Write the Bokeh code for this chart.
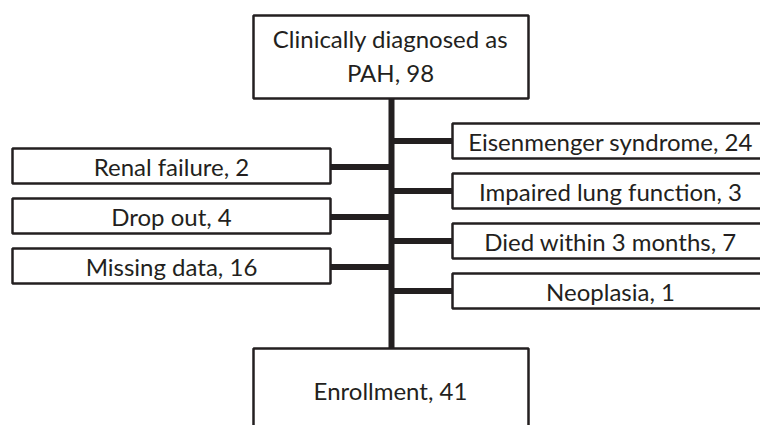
from bokeh.plotting import figure
from bokeh.models import Range1d, ColumnDataSource
from bokeh.core.properties import value
from bokeh.embed import file_html
from bokeh.resources import INLINE

# ---- data ----
top_lines = ["Clinically diagnosed as", "PAH, 98"]
left_labels = ["Renal failure", "Drop out", "Missing data"]
left_counts = [2, 4, 16]
right_labels = ["Eisenmenger syndrome", "Impaired lung function", "Died within 3 months", "Neoplasia"]
right_counts = [24, 3, 7, 1]
bottom_label = "Enrollment"
bottom_count = 41

# ---- layout (page pixel coordinates) ----
W, H = 760, 425
INK = "#231f20"
FONT = "Lato"
FS = "24px"
spine_x = 391

p = figure(width=W, height=H, output_backend="svg", toolbar_location=None,
           x_range=Range1d(0, W), y_range=Range1d(H, 0),
           min_border=0, outline_line_color=None)
p.axis.visible = False
p.grid.visible = False
p.background_fill_color = "white"

top_box = dict(left=253, right=528, top=15, bottom=98)
bot_box = dict(left=253, right=528, top=348, bottom=470)
left_x = (12, 330)
left_tops = [148 + 50 * i for i in range(len(left_labels))]
right_x = (452, 800)
right_tops = [123 + 50 * i for i in range(len(right_labels))]
bh = 35

# spine
p.segment(x0=[spine_x], y0=[top_box["bottom"]], x1=[spine_x], y1=[bot_box["top"]],
          line_color=INK, line_width=6)
# connectors
lc = [t + bh / 2 + 1 for t in left_tops]
rc = [t + bh / 2 for t in right_tops]
p.segment(x0=[left_x[1]] * len(lc), y0=lc, x1=[spine_x] * len(lc), y1=lc,
          line_color=INK, line_width=6)
p.segment(x0=[spine_x] * len(rc), y0=rc, x1=[right_x[0]] * len(rc), y1=rc,
          line_color=INK, line_width=6)

# boxes
qs = ColumnDataSource(dict(
    left=[top_box["left"], bot_box["left"]] + [left_x[0]] * len(left_tops) + [right_x[0]] * len(right_tops),
    right=[top_box["right"], bot_box["right"]] + [left_x[1]] * len(left_tops) + [right_x[1]] * len(right_tops),
    top=[top_box["top"], bot_box["top"]] + left_tops + right_tops,
    bottom=[top_box["bottom"], bot_box["bottom"]] + [t + bh for t in left_tops] + [t + bh for t in right_tops],
))
p.quad(left="left", right="right", top="top", bottom="bottom", source=qs,
       fill_color="white", line_color=INK, line_width=2.5)

# texts
texts = (top_lines
         + [f"{bottom_label}, {bottom_count}"]
         + [f"{l}, {c}" for l, c in zip(left_labels, left_counts)]
         + [f"{l}, {c}" for l, c in zip(right_labels, right_counts)])
tx = ([390, 390, 390]
      + [(left_x[0] + left_x[1]) / 2] * len(left_labels)
      + [610] * len(right_labels))
ty = ([38, 72, 390]
      + [t + bh / 2 for t in left_tops]
      + [t + bh / 2 for t in right_tops])
ts = ColumnDataSource(dict(x=tx, y=ty, text=texts))
p.text(x="x", y="y", text="text", source=ts, text_align="center", text_baseline="middle",
       text_font=value(FONT), text_font_size=FS, text_color=INK)

open("out.html", "w").write(file_html(p, INLINE))
